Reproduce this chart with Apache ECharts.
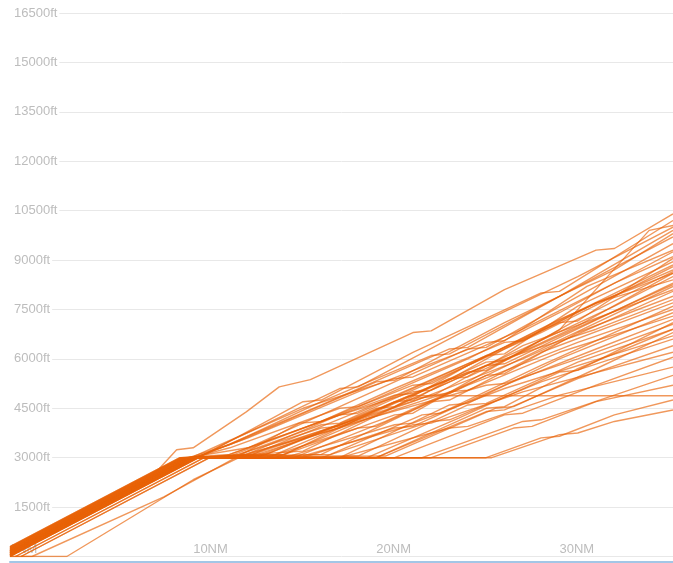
<!DOCTYPE html>
<html>
<head>
<meta charset="utf-8">
<script src="https://cdn.jsdelivr.net/npm/echarts@6/dist/echarts.min.js"></script>
<style>
  html, body { margin: 0; padding: 0; background: #fff; }
  #chart { width: 673px; height: 563px; }
</style>
</head>
<body>
<div id="chart"></div>
<script>
// axis ticks
const altitudeTicks = [0, 1500, 3000, 4500, 6000, 7500, 9000, 10500, 12000, 13500, 15000, 16500]
const distanceTicks = [0, 10, 20, 30]

// tracks are [distance NM, altitude ft] breakpoints
const offsetTracks = [
  [[0, 0], [1.2, 0], [8.4, 1810], [12, 2900], [15.8, 4050], [17, 4100], [21, 5100], [27, 6500], [28, 6550], [32, 7700], [36.2, 8600]],
  [[0, 0], [3.1, 0], [10, 2330], [12.5, 3000], [20, 3000], [26, 4500], [27, 4550], [31, 5700], [36.2, 6900]]
]

// climb through 3000ft without levelling
const earlyClimbers = [
  [[0, 150], [6.5, 2050], [7.7, 2400], [9.1, 3240], [10, 3300], [12.9, 4390], [14.7, 5150], [16.4, 5370], [22, 6800], [23, 6850], [27, 8100], [32, 9300], [33, 9350], [36.2, 10400]],
  [[0, 0], [10.3, 3000], [11, 3200], [16, 4700], [17, 4750], [22, 6200], [29, 8000], [30, 8050], [36.2, 10200]],
  [[0, 20], [10.24, 3000], [12, 3500], [18, 5100], [19, 5150], [25, 6900], [31, 8500], [36.2, 10000]],
  [[0, 40], [10.17, 3000], [11.5, 3300], [17, 4600], [24, 6300], [25, 6350], [30, 7900], [36.2, 9900]],
  [[0, 60], [10.1, 3000], [12.5, 3500], [20, 5300], [21, 5350], [27, 7100], [33, 8700], [36.2, 9800]],
  [[0, 80], [10.03, 3000], [13, 3600], [19, 5000], [26, 6500], [27, 6550], [31.5, 8200], [36.2, 9300]],
  [[0, 100], [9.97, 3000], [12, 3300], [18, 4500], [19, 4550], [25, 6000], [30, 7400], [36.2, 9250]],
  [[0, 120], [9.9, 3000], [11.5, 3400], [16, 4500], [21, 5400], [22, 5450], [28, 6900], [33, 8300], [36.2, 9100]],
  [[0, 140], [9.83, 3000], [15, 3100], [21, 4300], [22, 4350], [30, 6880], [34.9, 9900], [36.2, 10050]],
  [[0, 160], [9.76, 3000], [12, 3400], [17, 4700], [23, 6100], [24, 6150], [30, 7900], [36.2, 9700]],
  [[0, 180], [9.69, 3000], [13, 3300], [19, 4800], [25, 6300], [26, 6350], [32, 8200], [36.2, 9500]]
]

// short level-off at 3000ft, then climb
const coreTracks = [
  [[0, 200], [9.62, 3000], [12.5, 3000], [18, 4300], [19, 4350], [24, 5600], [30, 7100], [31, 7150], [36.2, 9050]],
  [[0, 220], [9.55, 3000], [13, 3050], [19, 4400], [26, 6100], [27, 6150], [31, 7600], [36.2, 8950]],
  [[0, 240], [9.48, 3000], [12, 3000], [17, 4000], [18, 4050], [23, 5300], [29, 6800], [36.2, 8800]],
  [[0, 260], [9.42, 3000], [14, 3100], [20, 4500], [21, 4550], [25, 5800], [30, 7200], [36.2, 8700]],
  [[0, 280], [9.35, 3000], [13.5, 3000], [19, 4200], [25, 5600], [26, 5650], [31, 7200], [36.2, 8650]],
  [[0, 300], [9.28, 3000], [12, 3100], [17.5, 4200], [22, 5000], [23, 5050], [28, 6300], [33, 7600], [36.2, 8500]],
  [[0.3, 0], [10.6, 3000], [15, 3100], [21, 4700], [22, 4750], [27, 6300], [32, 7700], [36.2, 8400]],
  [[0.6, 0], [10.9, 3000], [14.5, 3000], [20, 4300], [26, 5800], [27, 5850], [36.2, 8300]],
  [[0, 0], [10.3, 3000], [13, 3100], [18, 4000], [23, 4900], [24, 4950], [29, 6300], [36.2, 8200]],
  [[0, 20], [10.24, 3000], [16, 3200], [22, 4800], [23, 4850], [28, 6400], [36.2, 8100]],
  [[0, 40], [10.17, 3000], [12.5, 3100], [17, 3900], [18, 3950], [22, 4700], [28, 6000], [36.2, 8050]],
  [[0, 60], [10.1, 3000], [15.5, 3000], [20.5, 4100], [26, 5500], [27, 5550], [31, 6800], [36.2, 7900]],
  [[0, 80], [10.03, 3000], [11.5, 3000], [16, 3900], [21, 4900], [22, 4950], [27, 6000], [32, 6900], [36.2, 7800]],
  [[0, 100], [9.97, 3000], [17, 3100], [23, 4700], [24, 4750], [29, 6200], [36.2, 7700]],
  [[0, 120], [9.9, 3000], [14, 3000], [19, 3900], [20, 3950], [25, 5200], [31, 6500], [36.2, 7500]],
  [[0, 140], [9.83, 3000], [18, 3000], [24, 4600], [25, 4650], [30, 6000], [36.2, 7400]],
  [[0, 160], [9.76, 3000], [12.5, 3050], [18, 3900], [24, 5000], [25, 5050], [30, 6200], [36.2, 7300]],
  [[0, 180], [9.69, 3000], [16, 3000], [21, 3900], [22, 3950], [27, 5200], [32, 6300], [36.2, 7200]],
  [[0, 200], [9.62, 3000], [13.5, 3100], [19, 4100], [26, 5200], [27, 5250], [31, 6000], [36.2, 7050]],
  [[0, 220], [9.55, 3000], [19, 3050], [25, 4600], [26, 4650], [31, 5900], [36.2, 6900]],
  [[0, 240], [9.48, 3000], [15, 3000], [21, 4000], [22, 4050], [27, 5100], [36.2, 6700]],
  [[0, 260], [9.42, 3000], [17, 3000], [23, 4100], [24, 4150], [29, 5300], [36.2, 6600]],
  [[0, 280], [9.35, 3000], [20, 3000], [26, 4400], [27, 4450], [31, 5400], [36.2, 6400]],
  [[0, 300], [9.28, 3000], [16, 3050], [22, 4000], [23, 4050], [28, 5000], [36.2, 6200]],
  [[0.3, 0], [10.6, 3000], [21, 3000], [27, 4300], [28, 4350], [32, 5200], [36.2, 6050]],
  [[0.6, 0], [10.9, 3000], [18, 3000], [24, 3900], [25, 3950], [30, 4900], [36.2, 5750]],
  [[0, 0], [10.3, 3000], [22.5, 3000], [28, 4100], [29, 4150], [33, 4900], [36.2, 5500]],
  [[0, 20], [10.24, 3000], [12, 3050], [16.5, 4000], [22, 5200], [23, 5250], [29, 6900], [36.2, 8850]],
  [[0, 40], [10.17, 3000], [13.5, 3050], [18.5, 4100], [24, 5400], [25, 5450], [31, 7000], [36.2, 8600]],
  [[0, 60], [10.1, 3000], [14.5, 3100], [20, 4400], [26, 5900], [27, 5950], [36.2, 8250]],
  [[0, 80], [10.03, 3000], [17.5, 3100], [22.5, 4300], [23.5, 4350], [29, 5800], [36.2, 7600]],
  [[0, 100], [9.97, 3000], [19.5, 3000], [24.5, 4200], [30, 5600], [31, 5650], [36.2, 7100]],
  [[0, 120], [9.9, 3000], [20.5, 3050], [26.5, 4500], [27.5, 4550], [32, 5700], [36.2, 6800]]
]

// long level-offs and the one that holds 4900ft
const lateTracks = [
  [[0, 140], [9.83, 3000], [13, 3050], [18, 4000], [21.8, 4880], [36.2, 4880]],
  [[0, 160], [9.76, 3000], [23, 3000], [27.5, 3900], [28.5, 3950], [32, 4700], [36.2, 5200]],
  [[0, 180], [9.69, 3000], [26.3, 3000], [30, 3700], [31, 3750], [33, 4100], [36.2, 4450]],
  [[0, 200], [9.62, 3000], [26, 3000], [29, 3600], [30, 3650], [33, 4300], [36.2, 4750]]
]

const trackColor = 'rgb(232, 98, 8)'
const labelColor = '#bdbdbd'

const allTracks = [].concat(offsetTracks, earlyClimbers, coreTracks, lateTracks)

const chart = echarts.init(document.getElementById('chart'))

const series = allTracks.map((track, i) => ({
  name: 'track' + i,
  type: 'line',
  data: track,
  showSymbol: false,
  silent: true,
  lineStyle: { width: 1.4, color: trackColor, opacity: 0.66 }
}))

chart.setOption({
  animation: false,
  grid: { left: 10, right: 0, top: 13, bottom: 6.5 },
  xAxis: [
    {
      type: 'value',
      min: 0,
      max: 36.2,
      interval: 10,
      axisLine: { show: false },
      axisTick: { show: false },
      splitLine: { show: false },
      axisLabel: {
        inside: true,
        margin: 1,
        align: 'left',
        verticalAlign: 'bottom',
        color: labelColor,
        fontFamily: 'Liberation Sans',
        fontSize: 13,
        customValues: distanceTicks,
        formatter: v => v + 'NM'
      }
    },
    {
      type: 'value',
      position: 'bottom',
      offset: 5,
      min: 0,
      max: 36.2,
      axisLine: { show: true, lineStyle: { color: '#a3c6e6', width: 2 } },
      axisTick: { show: false },
      axisLabel: { show: false },
      splitLine: { show: false }
    }
  ],
  yAxis: {
    type: 'value',
    min: 0,
    max: 16500,
    interval: 1500,
    axisLine: { show: false },
    axisTick: { show: false },
    splitLine: { lineStyle: { color: '#e8e8e8', width: 1 } },
    axisLabel: {
      inside: true,
      margin: 0,
      showMinLabel: false,
      color: labelColor,
      fontFamily: 'Liberation Sans',
      fontSize: 13,
      backgroundColor: '#fff',
      padding: [1, 2, 1, 4],
      customValues: altitudeTicks,
      formatter: v => v + 'ft'
    }
  },
  series: series
})

window.addEventListener('resize', () => {
  chart.resize()
})
</script>
</body>
</html>
